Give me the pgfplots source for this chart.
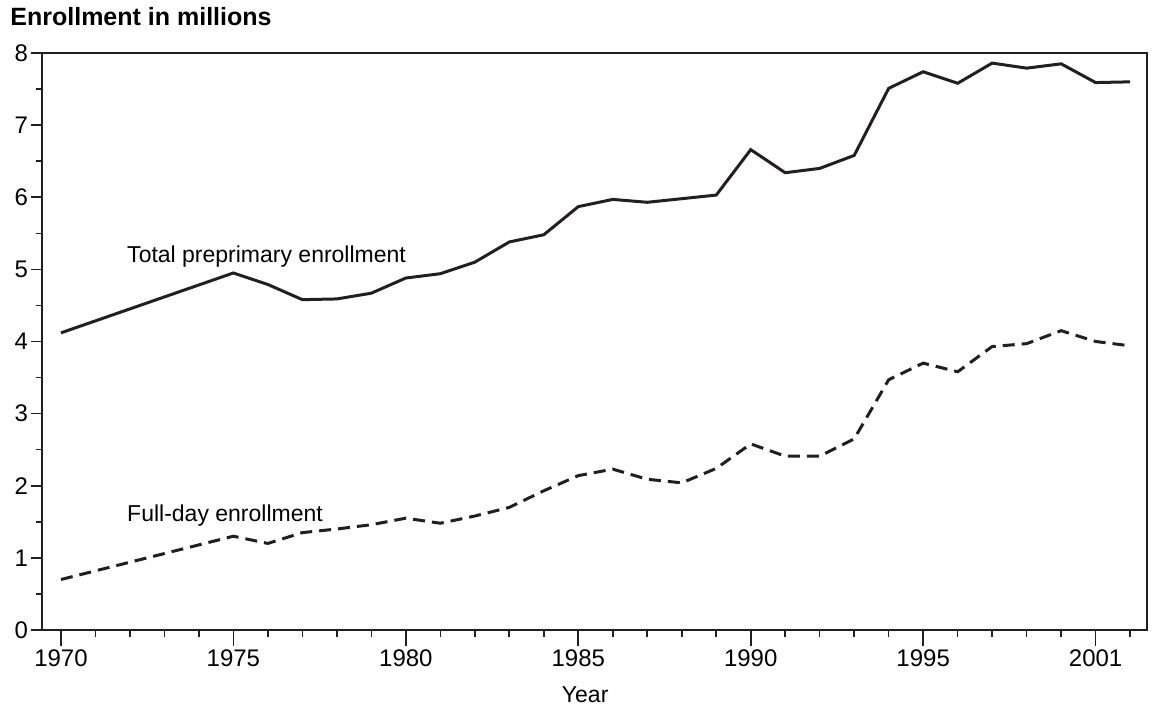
\documentclass[border=0pt]{standalone}
\usepackage{fontspec}
\setmainfont{Liberation Sans}
\usepackage{pgfplots}
\pgfplotsset{compat=1.18}
\definecolor{ink}{HTML}{231F20}

\pgfplotstableread{
year total fullday
1970 4.12 0.70
1975 4.95 1.30
1976 4.79 1.20
1977 4.58 1.35
1978 4.59 1.40
1979 4.67 1.46
1980 4.88 1.55
1981 4.94 1.48
1982 5.10 1.58
1983 5.38 1.70
1984 5.48 1.93
1985 5.87 2.14
1986 5.97 2.23
1987 5.93 2.09
1988 5.98 2.04
1989 6.03 2.24
1990 6.66 2.58
1991 6.34 2.41
1992 6.40 2.41
1993 6.58 2.65
1994 7.51 3.47
1995 7.74 3.70
1996 7.58 3.58
1997 7.86 3.93
1998 7.79 3.97
1999 7.85 4.15
2000 7.59 4.00
2001 7.60 3.94
}\enrollment

\pgfplotsset{
  base/.style={
    scale only axis,
    width=552.5pt, height=288.5pt,
    xmin=1969.45, xmax=2001.49,
    ymin=0, ymax=8,
    tick align=outside,
    tick style={ink, line width=0.8pt},
    tick label style={font=\fontsize{12}{14}\selectfont, text=black},
    /pgf/number format/assume math mode=true,
  },
}

\begin{document}
\begin{tikzpicture}
% main axis: frame, y ticks, data
\begin{axis}[
    base,
    axis line style={ink, line width=0.8pt},
    major tick length=5.5pt,
    minor tick length=3pt,
    xtick=\empty,
    ytick pos=left,
    ytick={0,1,...,8},
    minor ytick={0.5,1.5,...,7.5},
    yticklabel style={xshift=2pt},
    clip=false,
]
\coordinate (bl) at (rel axis cs:0,0);
\coordinate (tr) at (rel axis cs:1,1);
\addplot[ink, line width=1.5pt] table[x=year, y=total] {\enrollment};
\addplot[ink, line width=1.5pt, dash pattern=on 6pt off 3.5pt] table[x=year, y=fullday] {\enrollment};
\node[anchor=base west, font=\fontsize{11.5}{13}\selectfont, inner sep=0pt] at (axis cs:1971.91,5.10) {Total preprimary enrollment};
\node[anchor=base west, font=\fontsize{11.5}{13}\selectfont, inner sep=0pt] at (axis cs:1971.91,1.51) {Full-day enrollment};
\node[anchor=base, font=\fontsize{11.5}{13}\selectfont, inner sep=0pt] at ([yshift=-36.5pt]axis cs:1985.2,0) {Year};
\node[anchor=base west, font=\fontsize{12.5}{14}\bfseries, inner sep=0pt] at ([xshift=-16pt, yshift=13.5pt]rel axis cs:0,1) {Enrollment in millions};
\end{axis}
% overlay axis: x ticks only
\begin{axis}[
    base,
    axis line style={draw=none},
    major tick length=8pt,
    minor tick length=3.5pt,
    ytick=\empty,
    xtick pos=bottom,
    xtick={1970,1975,1980,1985,1990,1995,2000},
    xticklabels={1970,1975,1980,1985,1990,1995,2001},
    minor xtick={1971,...,2001},
    xticklabel style={yshift=1.5pt},
]
\end{axis}
\pgfresetboundingbox
\path ([shift={(-21pt,-41.5pt)}]bl) rectangle ([shift={(5pt,26.5pt)}]tr);
\end{tikzpicture}
\end{document}
